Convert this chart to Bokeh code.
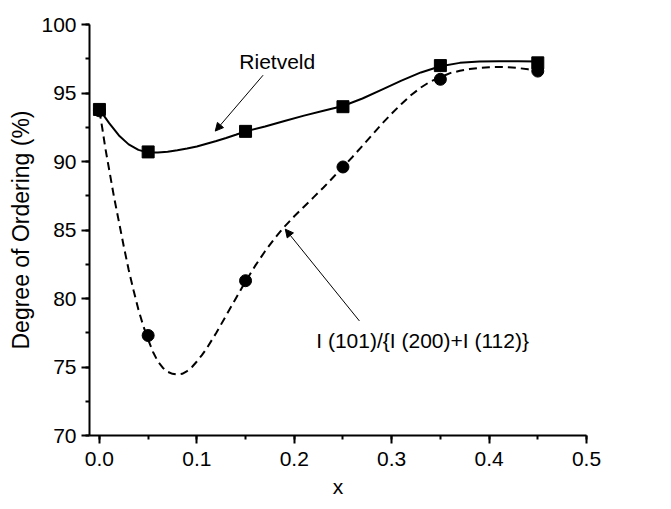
from bokeh.plotting import figure
from bokeh.models import Range1d, SingleIntervalTicker, PrintfTickFormatter, Label, Arrow, NormalHead
from bokeh.embed import file_html
from bokeh.resources import INLINE

# measured points
x_pts = [0.0, 0.05, 0.15, 0.25, 0.35, 0.45]
rietveld = [93.8, 90.7, 92.2, 94.0, 97.0, 97.2]
ratio = [93.7, 77.3, 81.3, 89.6, 96.0, 96.6]

# fitted curves
riet_cx = [0.0, 0.01, 0.02, 0.03, 0.04, 0.05, 0.06, 0.07, 0.08, 0.09, 0.10, 0.11, 0.12,
           0.13, 0.14, 0.15, 0.17, 0.19, 0.21, 0.23, 0.25, 0.27, 0.29, 0.31, 0.33, 0.35,
           0.37, 0.39, 0.41, 0.43, 0.45]
riet_cy = [93.8, 92.8, 91.9, 91.25, 90.85, 90.65, 90.65, 90.72, 90.82, 90.95, 91.1, 91.3, 91.5,
           91.72, 91.95, 92.2, 92.55, 92.95, 93.35, 93.7, 94.05, 94.6, 95.25, 95.9, 96.5, 96.95,
           97.2, 97.3, 97.32, 97.32, 97.3]
ratio_cx = [0.0, 0.003, 0.006, 0.01, 0.015, 0.02, 0.025, 0.03, 0.035, 0.04, 0.045, 0.05,
            0.055, 0.06, 0.065, 0.07, 0.075, 0.08, 0.085, 0.09, 0.095, 0.10, 0.105, 0.11,
            0.12, 0.13, 0.14, 0.15, 0.16, 0.17, 0.18, 0.19, 0.20, 0.21, 0.22, 0.23, 0.24,
            0.25, 0.26, 0.27, 0.28, 0.29, 0.30, 0.31, 0.32, 0.33, 0.34, 0.35, 0.36, 0.37,
            0.38, 0.39, 0.40, 0.41, 0.42, 0.43, 0.44, 0.45]
ratio_cy = [93.7, 92.4, 91.0, 89.4, 87.4, 85.6, 83.8, 82.1, 80.6, 79.2, 78.0, 77.0,
            76.1, 75.4, 74.95, 74.65, 74.5, 74.45, 74.5, 74.7, 75.0, 75.4, 75.85, 76.35,
            77.5, 78.75, 80.0, 81.25, 82.4, 83.45, 84.4, 85.25, 86.0, 86.7, 87.4, 88.1, 88.85,
            89.6, 90.35, 91.15, 91.95, 92.75, 93.5, 94.2, 94.85, 95.4, 95.85, 96.15, 96.45, 96.62,
            96.75, 96.83, 96.88, 96.9, 96.88, 96.82, 96.73, 96.62]

x_ticks_fmt = "%.1f"
y_ticks_fmt = "%d"

FONT = "Liberation Sans"

p = figure(width=663, height=501, output_backend="svg", toolbar_location=None,
           x_range=Range1d(-0.0102, 0.5), y_range=Range1d(70, 100),
           min_border_left=89, min_border_right=77, min_border_top=24, min_border_bottom=66)
p.outline_line_color = None
p.grid.visible = False
p.background_fill_color = "white"
p.border_fill_color = "white"

p.xaxis.ticker = SingleIntervalTicker(interval=0.1, num_minor_ticks=2)
p.yaxis.ticker = SingleIntervalTicker(interval=5, num_minor_ticks=2)
p.xaxis.formatter = PrintfTickFormatter(format=x_ticks_fmt)
p.yaxis.formatter = PrintfTickFormatter(format=y_ticks_fmt)

for ax in (p.xaxis, p.yaxis):
    ax.axis_line_width = 2
    ax.axis_line_color = "black"
    ax.major_tick_line_width = 2
    ax.minor_tick_line_width = 2
    ax.major_tick_line_color = "black"
    ax.minor_tick_line_color = "black"
    ax.major_tick_in = 0
    ax.major_tick_out = 8
    ax.minor_tick_in = 0
    ax.minor_tick_out = 4
    ax.major_label_text_font = FONT
    ax.major_label_text_font_size = "21px"
    ax.major_label_text_color = "black"
    ax.axis_label_text_font = FONT
    ax.axis_label_text_font_style = "normal"
    ax.axis_label_text_color = "black"

p.xaxis.axis_label = "x"
p.xaxis.axis_label_text_font_size = "21px"
p.xaxis.major_label_standoff = 8
p.xaxis.axis_label_standoff = 6
p.yaxis.axis_label = "Degree of Ordering (%)"
p.yaxis.axis_label_text_font_size = "23px"
p.yaxis.major_label_standoff = 5
p.yaxis.axis_label_standoff = 4

p.line(riet_cx, riet_cy, line_color="black", line_width=2)
p.line(ratio_cx, ratio_cy, line_color="black", line_width=2, line_dash="8 5")
p.scatter(x_pts, ratio, marker="circle", size=12, color="black")
p.scatter(x_pts, rietveld, marker="square", size=12, color="black")

p.add_layout(Label(x=0.1436, y=97.27, text="Rietveld", text_font=FONT, text_font_size="21px",
                   text_baseline="middle", text_align="left", text_color="black"))
p.add_layout(Label(x=0.2226, y=76.9, text="I (101)/{I (200)+I (112)}", text_font=FONT,
                   text_font_size="21px", text_baseline="middle", text_align="left",
                   text_color="black"))
p.add_layout(Arrow(x_start=0.168, y_start=96.3, x_end=0.1189, y_end=92.22, line_width=1,
                   end=NormalHead(size=8, fill_color="black", line_color="black", line_width=1)))
p.add_layout(Arrow(x_start=0.2669, y_start=78.36, x_end=0.1908, y_end=85.06, line_width=1,
                   end=NormalHead(size=8, fill_color="black", line_color="black", line_width=1)))

open("out.html", "w").write(file_html(p, INLINE))
